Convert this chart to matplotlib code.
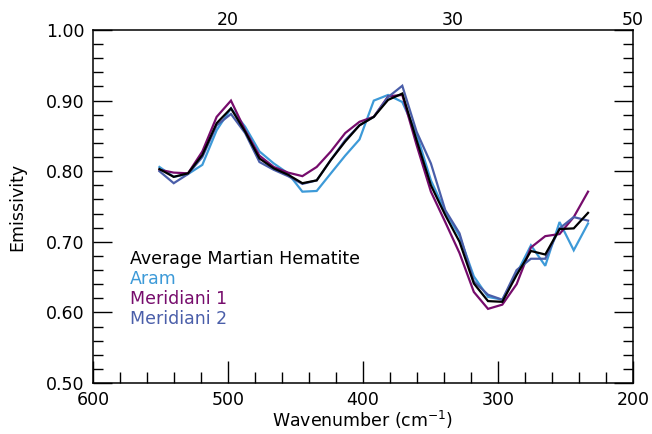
import numpy as np
import matplotlib
matplotlib.use("Agg")
import matplotlib.pyplot as plt
from matplotlib.ticker import MultipleLocator

# TES channel wavenumbers (cm-1)
wavenumber = [550.8, 540.2, 529.6, 519.0, 508.4, 497.8, 487.3, 476.7, 466.1, 455.5,
              444.9, 434.3, 423.8, 413.2, 402.6, 392.0, 381.4, 370.9, 360.3, 349.7,
              339.1, 328.5, 317.9, 307.4, 296.8, 286.2, 275.6, 265.0, 254.4, 243.9,
              233.3]

average = [0.803, 0.792, 0.797, 0.823, 0.868, 0.889, 0.856, 0.818, 0.804, 0.795,
           0.783, 0.787, 0.816, 0.842, 0.865, 0.877, 0.901, 0.910, 0.844, 0.780,
           0.738, 0.700, 0.641, 0.616, 0.615, 0.653, 0.687, 0.682, 0.718, 0.719,
           0.741]
aram = [0.806, 0.792, 0.796, 0.809, 0.858, 0.889, 0.863, 0.828, 0.811, 0.797,
        0.771, 0.772, 0.797, 0.822, 0.845, 0.900, 0.908, 0.898, 0.853, 0.787,
        0.743, 0.708, 0.651, 0.622, 0.618, 0.655, 0.695, 0.666, 0.728, 0.688,
        0.726]
meridiani1 = [0.802, 0.798, 0.797, 0.828, 0.877, 0.900, 0.858, 0.822, 0.806, 0.798,
              0.793, 0.806, 0.828, 0.854, 0.870, 0.877, 0.906, 0.908, 0.837, 0.771,
              0.728, 0.684, 0.629, 0.605, 0.611, 0.640, 0.692, 0.708, 0.711, 0.735,
              0.771]
meridiani2 = [0.800, 0.783, 0.796, 0.820, 0.865, 0.881, 0.854, 0.813, 0.802, 0.793,
              0.782, 0.787, 0.816, 0.844, 0.865, 0.877, 0.905, 0.921, 0.856, 0.811,
              0.745, 0.712, 0.644, 0.625, 0.618, 0.660, 0.676, 0.676, 0.719, 0.735,
              0.730]

series_names = ["Average Martian Hematite", "Aram", "Meridiani 1", "Meridiani 2"]
series_colors = ["#000000", "#3d9ad8", "#760c6c", "#4a5ea9"]

# wavelength labels for the top axis (micron)
top_labels = [20, 30, 50]

plt.rcParams["font.family"] = "DejaVu Sans"

fig = plt.figure(figsize=(6.52, 4.34), dpi=100)
ax = fig.add_axes([93 / 652, 1 - 383 / 434, 540 / 652, 353 / 434])

# draw order: average on top of the others
for ys, c in zip([aram, meridiani1, meridiani2, average],
                 [series_colors[1], series_colors[2], series_colors[3], series_colors[0]]):
    ax.plot(wavenumber, ys, color=c, linewidth=1.6, solid_joinstyle="miter")

ax.set_xlim(600, 200)
ax.set_ylim(0.5, 1.0)
ax.xaxis.set_major_locator(MultipleLocator(100))
ax.xaxis.set_minor_locator(MultipleLocator(20))
ax.yaxis.set_major_locator(MultipleLocator(0.1))
ax.yaxis.set_minor_locator(MultipleLocator(0.02))
ax.yaxis.set_major_formatter(matplotlib.ticker.FormatStrFormatter("%.2f"))
ax.tick_params(which="both", direction="in", top=True, right=True,
               width=1.0, colors="black", labelsize=12.5)
ax.tick_params(axis="x", which="major", length=16, pad=6)
ax.tick_params(axis="x", which="minor", length=8)
ax.tick_params(axis="y", which="major", length=14, pad=6)
ax.tick_params(axis="y", which="minor", length=7)
for sp in ax.spines.values():
    sp.set_linewidth(1.1)

ax.set_xlabel("Wavenumber (cm$^{-1}$)", fontsize=12.5, labelpad=0)
ax.set_ylabel("Emissivity", fontsize=12.5, labelpad=14)

# top axis: wavelength labels at 10000/lambda
ax2 = ax.twiny()
ax2.set_xlim(ax.get_xlim())
ax2.set_xticks([1e4 / w for w in top_labels])
ax2.set_xticklabels([str(w) for w in top_labels])
ax2.xaxis.set_minor_locator(matplotlib.ticker.NullLocator())
ax2.tick_params(axis="x", length=0, pad=1, labelsize=12.5)
for sp in ax2.spines.values():
    sp.set_visible(False)

# legend as coloured text
for i, (name, c) in enumerate(zip(series_names, series_colors)):
    ax.text(0.068, 0.352 - i * 0.057, name, color=c, fontsize=12.5,
            transform=ax.transAxes, ha="left", va="center")

fig.savefig("out.png", dpi=100)
